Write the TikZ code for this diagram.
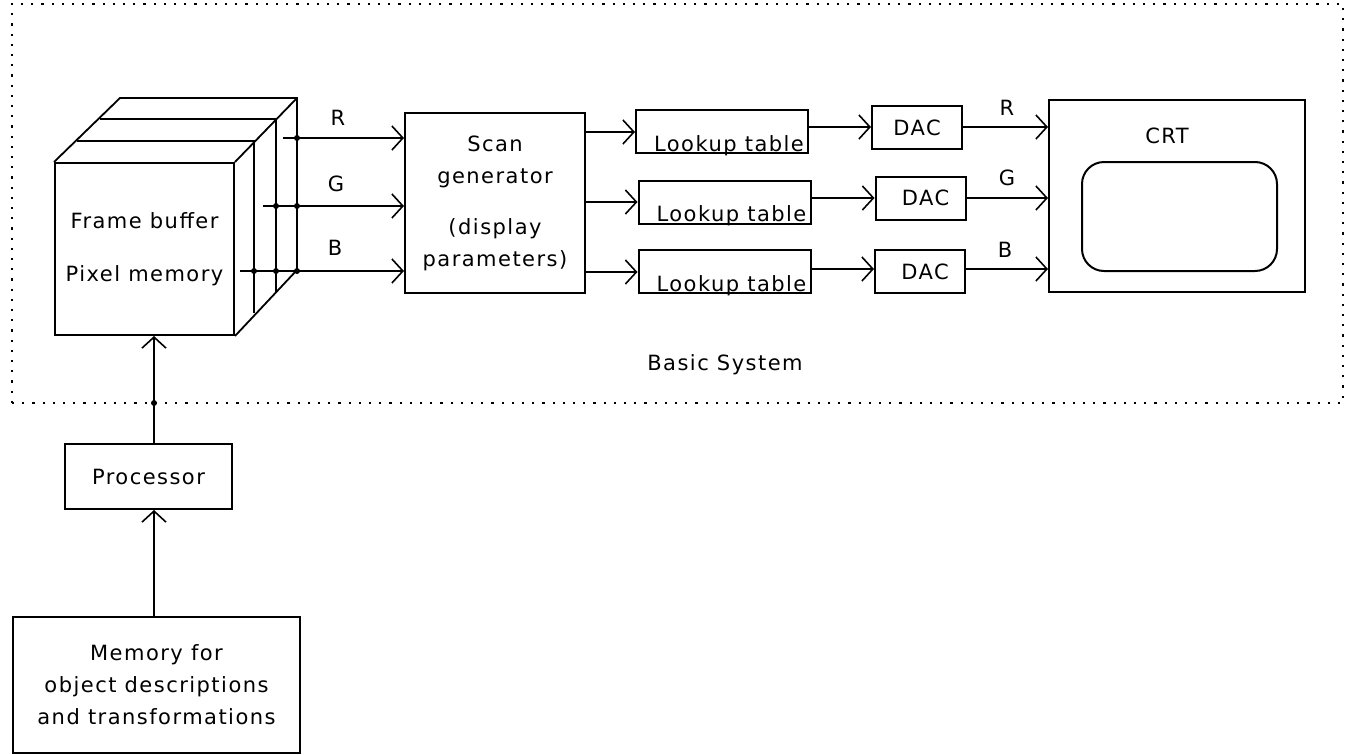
\documentclass[tikz,border=0pt]{standalone}
\usepackage{fontspec}
\setmainfont[LetterSpace=7]{DejaVu Sans}
\usetikzlibrary{arrows.meta,positioning,calc}
\tikzset{
  >={Straight Barb[length=11pt,width=24pt,line width=1.6pt]},
  box/.style={draw,line width=2pt,inner sep=0pt,align=center,font=\fontsize{21}{32}\selectfont},
  lutbox/.style={box,minimum width=172pt,text height=41pt,text depth=2pt},
  dacbox/.style={box,minimum width=90pt,minimum height=43pt},
  lab/.style={font=\fontsize{21}{24}\selectfont,align=center},
  arr/.style={->,line width=2pt},
  lin/.style={line width=1.8pt},
  dot/.style={circle,fill,inner sep=0pt,minimum size=6pt},
}
\begin{document}
\begin{tikzpicture}[x=1pt,y=-1pt]
\useasboundingbox (0,0) rectangle (1355,755);
% outer frame
\node[draw,line width=2.2pt,dash pattern=on 2.2pt off 8pt,minimum width=1331pt,minimum height=399pt,inner sep=0pt] (basic) at (677.5,203.5) {};
\node[lab] (basiclab) at (725,365) {Basic System};
% cube
\node[box,minimum width=179pt,minimum height=172pt] (frame) at (144.5,249) {Frame buffer\\[21pt]Pixel memory};
\coordinate (t1) at (77,141); \coordinate (e1) at (254,141); \coordinate (b1) at (254,313);
\coordinate (t2) at (100,119); \coordinate (e2) at (276,119); \coordinate (b2) at (276,292);
\coordinate (t3) at (120,98); \coordinate (e3) at (297,98); \coordinate (b3) at (297,270);
\draw[lin] (frame.north west) -- (t3) -- (e3) -- (b3) -- (frame.south east);
\draw[lin] (frame.north east) -- (e3);
\draw[lin] (t1) -- (e1) -- (b1);
\draw[lin] (t2) -- (e2) -- (b2);
% scan generator, tables, converters
\node[box,minimum width=180pt,minimum height=180pt] (scan) at (495,203) {Scan\\generator\\[19pt](display\\parameters)};
\node[lutbox] (lut1) at (722,131.5) {\hspace*{14pt}Lookup table};
\node[lutbox] (lut2) at (724.5,202) {\hspace*{14pt}Lookup table};
\node[lutbox] (lut3) at (724.5,271.5) {\hspace*{14pt}Lookup table};
\node[dacbox] (dac1) at (917,127.5) {DAC};
\node[dacbox] (dac2) at (920.5,198) {\hspace*{10pt}DAC};
\node[dacbox] (dac3) at (920,271.5) {\hspace*{10pt}DAC};
% display
\node[box,minimum width=256pt,minimum height=192pt] (crt) at (1177,196) {};
\node[box,rounded corners=22pt,minimum width=195pt,minimum height=109pt] (screen) at (1179.5,216.5) {};
\node[lab] (crtlab) at (1167,136) {CRT};
% lower boxes
\node[box,minimum width=167pt,minimum height=65pt] (proc) at (148.5,476.5) {Processor};
\node[box,minimum width=287pt,minimum height=136pt] (mem) at (156.5,685) {Memory for\\object descriptions\\and transformations};
% signals out of the cube
\coordinate (rout) at (283,138);
\coordinate (gout) at (263,206);
\coordinate (bout) at (240,271);
\draw[arr] (rout) -- (rout -| scan.west);
\draw[arr] (gout) -- (gout -| scan.west);
\draw[arr] (bout) -- (bout -| scan.west);
\node[lab] (rlab) at (338,118) {R};
\node[lab] (glab) at (336,184) {G};
\node[lab] (blab) at (335,248) {B};
\node[dot] (d1) at (e3 |- rout) {};
\node[dot] (d2) at (e3 |- gout) {};
\node[dot] (d3) at (e2 |- gout) {};
\node[dot] (d4) at (e3 |- bout) {};
\node[dot] (d5) at (e2 |- bout) {};
\node[dot] (d6) at (e1 |- bout) {};
% to the tables
\coordinate (s1) at (585,132);
\coordinate (s2) at (585,202);
\coordinate (s3) at (585,272);
\draw[arr] (s1) -- (s1 -| lut1.west);
\draw[arr] (s2) -- (s2 -| lut2.west);
\draw[arr] (s3) -- (s3 -| lut3.west);
\coordinate (l1) at (808,127);
\coordinate (l2) at (810,198);
\coordinate (l3) at (810,269);
\draw[arr] (l1) -- (l1 -| dac1.west);
\draw[arr] (l2) -- (l2 -| dac2.west);
\draw[arr] (l3) -- (l3 -| dac3.west);
\coordinate (c1) at (962,127);
\coordinate (c2) at (966,198);
\coordinate (c3) at (965,269);
\draw[arr] (c1) -- (c1 -| crt.west);
\draw[arr] (c2) -- (c2 -| crt.west);
\draw[arr] (c3) -- (c3 -| crt.west);
\node[lab] (rlab2) at (1007,108) {R};
\node[lab] (glab2) at (1007,178) {G};
\node[lab] (blab2) at (1005,250) {B};
% vertical path
\coordinate (pout) at (154,444);
\coordinate (mout) at (154,617);
\draw[arr] (pout) -- (pout |- frame.south);
\draw[arr] (mout) -- (mout |- proc.south);
\node[dot] (d7) at (154,403) {};
\end{tikzpicture}
\end{document}
